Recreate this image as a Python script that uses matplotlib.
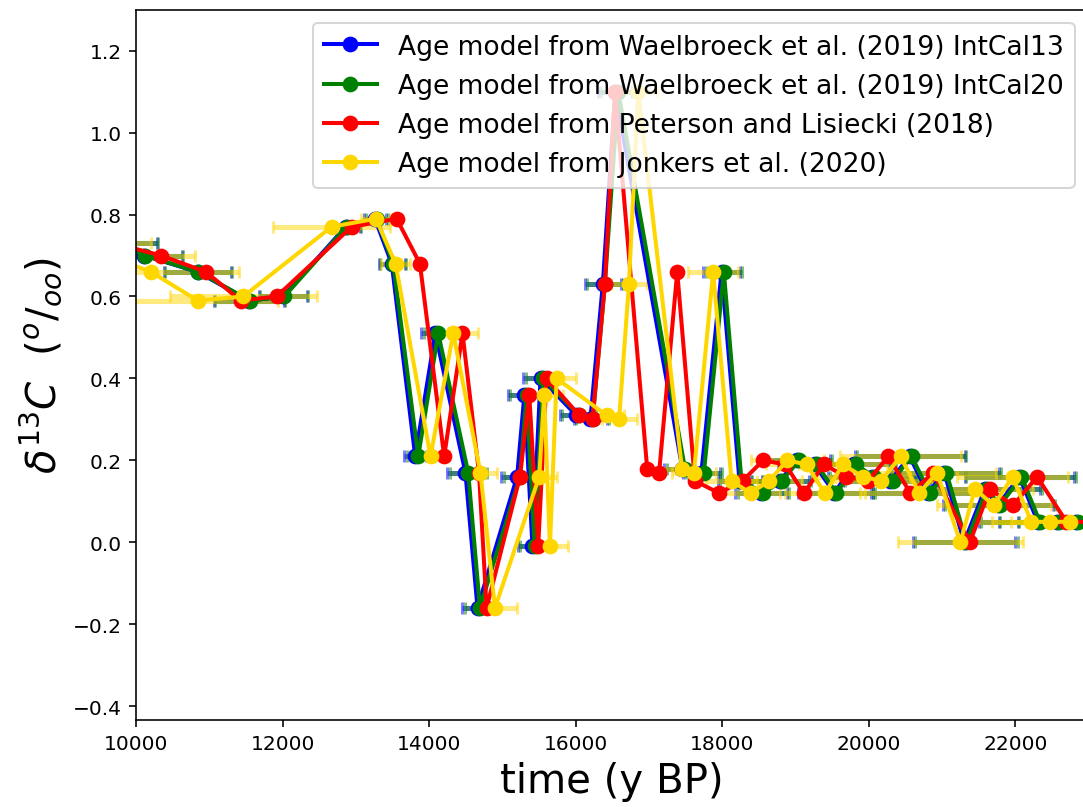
import matplotlib
matplotlib.use("Agg")
import matplotlib.pyplot as plt
import numpy as np

# d13C values (depth order, shared by all age models)
d13c = [0.73, 0.70, 0.66, 0.59, 0.60, 0.77, 0.79, 0.68, 0.21, 0.51,
        0.17, -0.16, 0.16, 0.36, -0.01, 0.40, 0.31, 0.30, 0.63, 1.10,
        0.18, 0.17, 0.66, 0.15, 0.12, 0.15, 0.20, 0.19, 0.12, 0.19,
        0.16, 0.15, 0.21, 0.12, 0.17, 0.00, 0.13, 0.09, 0.16, 0.05,
        0.05, 0.05]

# Ages (y BP) for each age model
age_green = [9800, 10123, 10850, 11555, 12023, 12873, 13283, 13510, 13851, 14124,
             14533, 14693, 15239, 15330, 15440, 15555, 16048, 16230, 16398, 16580,
             17490, 17749, 18021, 18262, 18558, 18810, 19050, 19286, 19558, 19823,
             20068, 20323, 20582, 20831, 21058, 21330, 21610, 21787, 22082, 22333,
             22595, 22854]
age_blue = [9790, 10110, 10840, 11545, 12010, 12860, 13260, 13490, 13810, 14085,
            14495, 14660, 15200, 15300, 15410, 15520, 16010, 16200, 16370, 16540,
            17455, 17715, 17990, 18235, 18530, 18785, 19025, 19260, 19530, 19795,
            20040, 20295, 20555, 20805, 21030, 21300, 21585, 21760, 22055, 22305,
            22570, 22830]
age_red = [9700, 10341, 10955, 11428, 11919, 12942, 13556, 13874, 14205, 14455,
           14680, 14784, 15239, 15366, 15488, 15602, 16048, 16230, 16398, 16535,
           16975, 17138, 17385, 17626, 17957, 18276, 18558, 18860, 19113, 19386,
           19690, 19990, 20264, 20567, 20880, 21378, 21651, 21969, 22295, 22696,
           23100, 23400]
age_yellow = [9200, 9600, 10205, 10841, 11464, 12668, 13274, 13542, 14019, 14329,
              14700, 14898, 15502, 15570, 15648, 15739, 16421, 16592, 16726, 16853,
              17450, 17613, 17875, 18126, 18385, 18640, 18886, 19150, 19400, 19648,
              19914, 20171, 20432, 20685, 20930, 21249, 21446, 21705, 21960, 22218,
              22477, 22742]

# age uncertainties (years)
err_waelbroeck = [500, 520, 455, 480, 330, 200, 150, 180, 150, 190,
                  250, 205, 220, 220, 200, 240, 230, 230, 245, 230,
                  250, 250, 250, 300, 350, 400, 450, 500, 500, 550,
                  600, 650, 750, 750, 750, 700, 750, 750, 750, 800,
                  800, 800]
err_jonkers = [1000, 1200, 1200, 1100, 1000, 800, 200, 200, 250, 340,
               230, 295, 240, 250, 250, 270, 240, 240, 250, 250,
               300, 300, 340, 350, 400, 450, 500, 550, 550, 600,
               650, 700, 820, 800, 800, 850, 800, 780, 760, 800,
               800, 800]

labels = ["Age model from Waelbroeck et al. (2019) IntCal13",
          "Age model from Waelbroeck et al. (2019) IntCal20",
          "Age model from Peterson and Lisiecki (2018)",
          "Age model from Jonkers et al. (2020)"]
colors = ["blue", "green", "red", "gold"]

DPI = 145
fig = plt.figure(figsize=(1083 / DPI, 808 / DPI), dpi=DPI)
ax = fig.add_axes([136 / 1083, (808 - 720.7) / 808, (1088 - 136) / 1083, (720.7 - 10.7) / 808])

series = [(age_blue, err_waelbroeck), (age_green, err_waelbroeck),
          (age_red, None), (age_yellow, err_jonkers)]

for (ages, err), c in zip(series, colors):
    if err is not None:
        ax.errorbar(ages, d13c, xerr=err, fmt='none', ecolor=c, alpha=0.5,
                    elinewidth=2.5, capsize=3, capthick=1.5, zorder=1)

for (ages, err), c, lab in zip(series, colors, labels):
    ax.plot(ages, d13c, 'o-', color=c, label=lab, markersize=6.8, linewidth=2, zorder=2)

ax.set_xlim(10000, 22990)
ax.set_ylim(-0.433, 1.300)
ax.set_xlabel("time (y BP)", fontsize=20)
ax.set_ylabel(r"$\delta^{13}C\ \ (^o/_{oo})$", fontsize=20)
ax.tick_params(labelsize=10)
ax.legend(loc="upper right", fontsize=13.2)

fig.savefig("out.png", dpi=DPI)
